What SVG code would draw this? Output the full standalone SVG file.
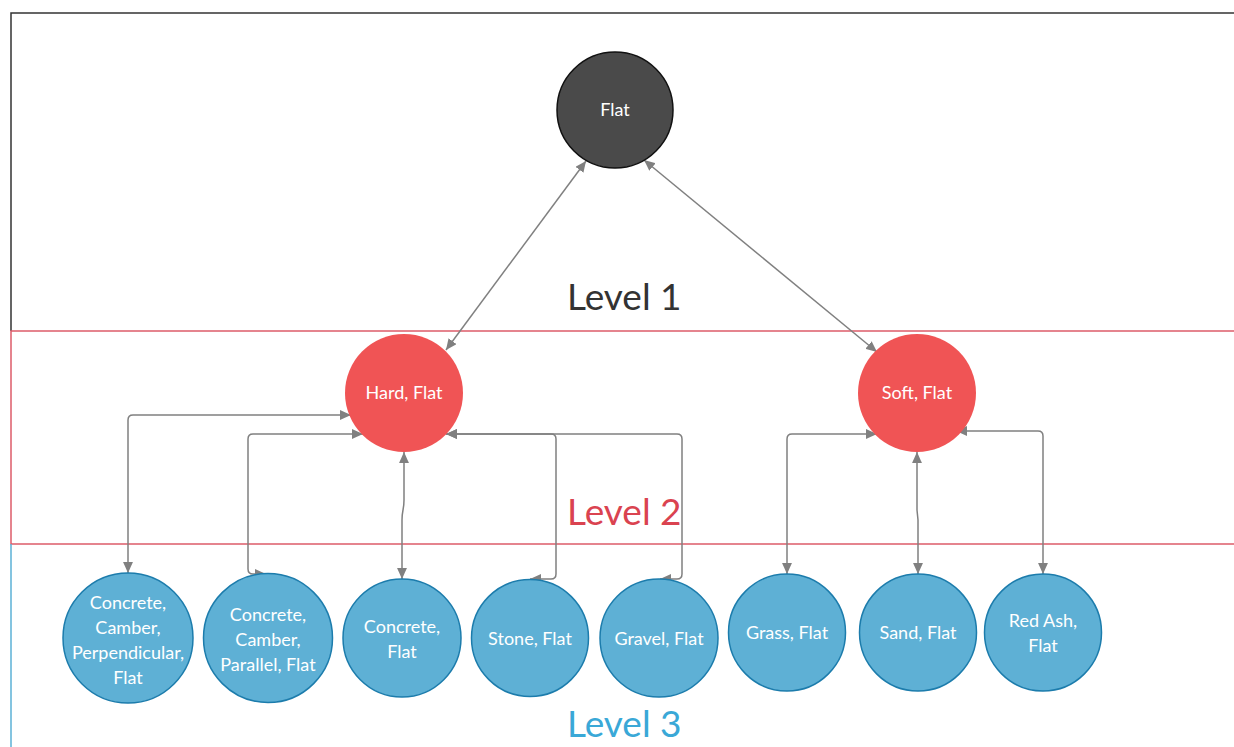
<svg xmlns="http://www.w3.org/2000/svg" width="1234" height="747" viewBox="0 0 1234 747">
<style>
.lt{font-family:Lato,"Noto Sans","Liberation Sans",sans-serif;font-size:18px;fill:#ffffff;text-anchor:middle}
.lvl{font-family:Lato,"Noto Sans","Liberation Sans",sans-serif;font-size:37px;text-anchor:start}
.blue{fill:#5EB0D5;stroke:#1C7CAC;stroke-width:1.5}
.red{fill:#F05455}
.dark{fill:#4A4A4A;stroke:#111;stroke-width:1.5}
.con{fill:none;stroke:#808080;stroke-width:1.5;marker-start:url(#ah);marker-end:url(#ah)}
</style>
<defs>
<marker id="ah" viewBox="0 0 10 9" refX="10" refY="4.5" markerWidth="11" markerHeight="10" markerUnits="userSpaceOnUse" orient="auto-start-reverse">
<path d="M0,0 L10,4.5 L0,9 z" fill="#808080"/>
</marker>
</defs>
<rect width="1234" height="747" fill="#ffffff"/>
<g id="bands">
<path d="M11,331 V13 H1234" fill="none" stroke="#333333" stroke-width="1.5"/>
<path d="M1234,331 H11 V544 H1234" fill="none" stroke="#DD5C6A" stroke-width="1.5"/>
<path d="M11,544 V747" fill="none" stroke="#5BB0D6" stroke-width="1.5"/>
<text class="lvl" x="567" y="310" fill="#333333">Level 1</text>
<text class="lvl" x="567" y="525" fill="#DA4350">Level 2</text>
<text class="lvl" x="567" y="737" fill="#3AA8D7">Level 3</text>
</g>
<g id="connectors">
<path class="con" d="M586,161 L446,350"/>
<path class="con" d="M644,160 L877,352"/>
<path class="con" d="M351,415 H133 Q128,415 128,420 V573"/>
<path class="con" d="M363,434 H253 Q248,434 248,439 V569 Q248,574 253,574 H266"/>
<path class="con" d="M404,452 V500 C404,510 402,510 402,520 V579"/>
<path class="con" d="M446,434 H551 Q556,434 556,439 V574 Q556,579 551,579 H530"/>
<path class="con" d="M446,434 H677 Q682,434 682,439 V574 Q682,579 677,579 H660"/>
<path class="con" d="M877,434 H792 Q787,434 787,439 V574"/>
<path class="con" d="M917,452 V510 L918,520 V574"/>
<path class="con" d="M956,431 H1038 Q1043,431 1043,436 V574"/>
</g>
<g id="n-flat">
<circle class="dark" cx="615" cy="110" r="58"/>
<text class="lt" x="615" y="116">Flat</text>
</g>
<g id="n-hard">
<circle class="red" cx="404" cy="393" r="59"/>
<text class="lt" x="404" y="399">Hard, Flat</text>
</g>
<g id="n-soft">
<circle class="red" cx="917" cy="393" r="59"/>
<text class="lt" x="917" y="399">Soft, Flat</text>
</g>
<g id="n-c1">
<circle class="blue" cx="128" cy="638" r="65"/>
<text class="lt" x="128" y="609">Concrete,</text>
<text class="lt" x="128" y="634">Camber,</text>
<text class="lt" x="128" y="659">Perpendicular,</text>
<text class="lt" x="128" y="684">Flat</text>
</g>
<g id="n-c2">
<circle class="blue" cx="268" cy="638" r="64.5"/>
<text class="lt" x="268" y="621">Concrete,</text>
<text class="lt" x="268" y="646">Camber,</text>
<text class="lt" x="268" y="671">Parallel, Flat</text>
</g>
<g id="n-c3">
<circle class="blue" cx="402" cy="638" r="59"/>
<text class="lt" x="402" y="633">Concrete,</text>
<text class="lt" x="402" y="658">Flat</text>
</g>
<g id="n-stone">
<circle class="blue" cx="530" cy="638" r="58.5"/>
<text class="lt" x="530" y="645">Stone, Flat</text>
</g>
<g id="n-gravel">
<circle class="blue" cx="659" cy="638" r="59"/>
<text class="lt" x="659" y="645">Gravel, Flat</text>
</g>
<g id="n-grass">
<circle class="blue" cx="787" cy="632.5" r="58.5"/>
<text class="lt" x="787" y="639">Grass, Flat</text>
</g>
<g id="n-sand">
<circle class="blue" cx="918" cy="632.5" r="58.5"/>
<text class="lt" x="918" y="639">Sand, Flat</text>
</g>
<g id="n-redash">
<circle class="blue" cx="1043" cy="632.5" r="58.5"/>
<text class="lt" x="1043" y="627">Red Ash,</text>
<text class="lt" x="1043" y="652">Flat</text>
</g>
</svg>
